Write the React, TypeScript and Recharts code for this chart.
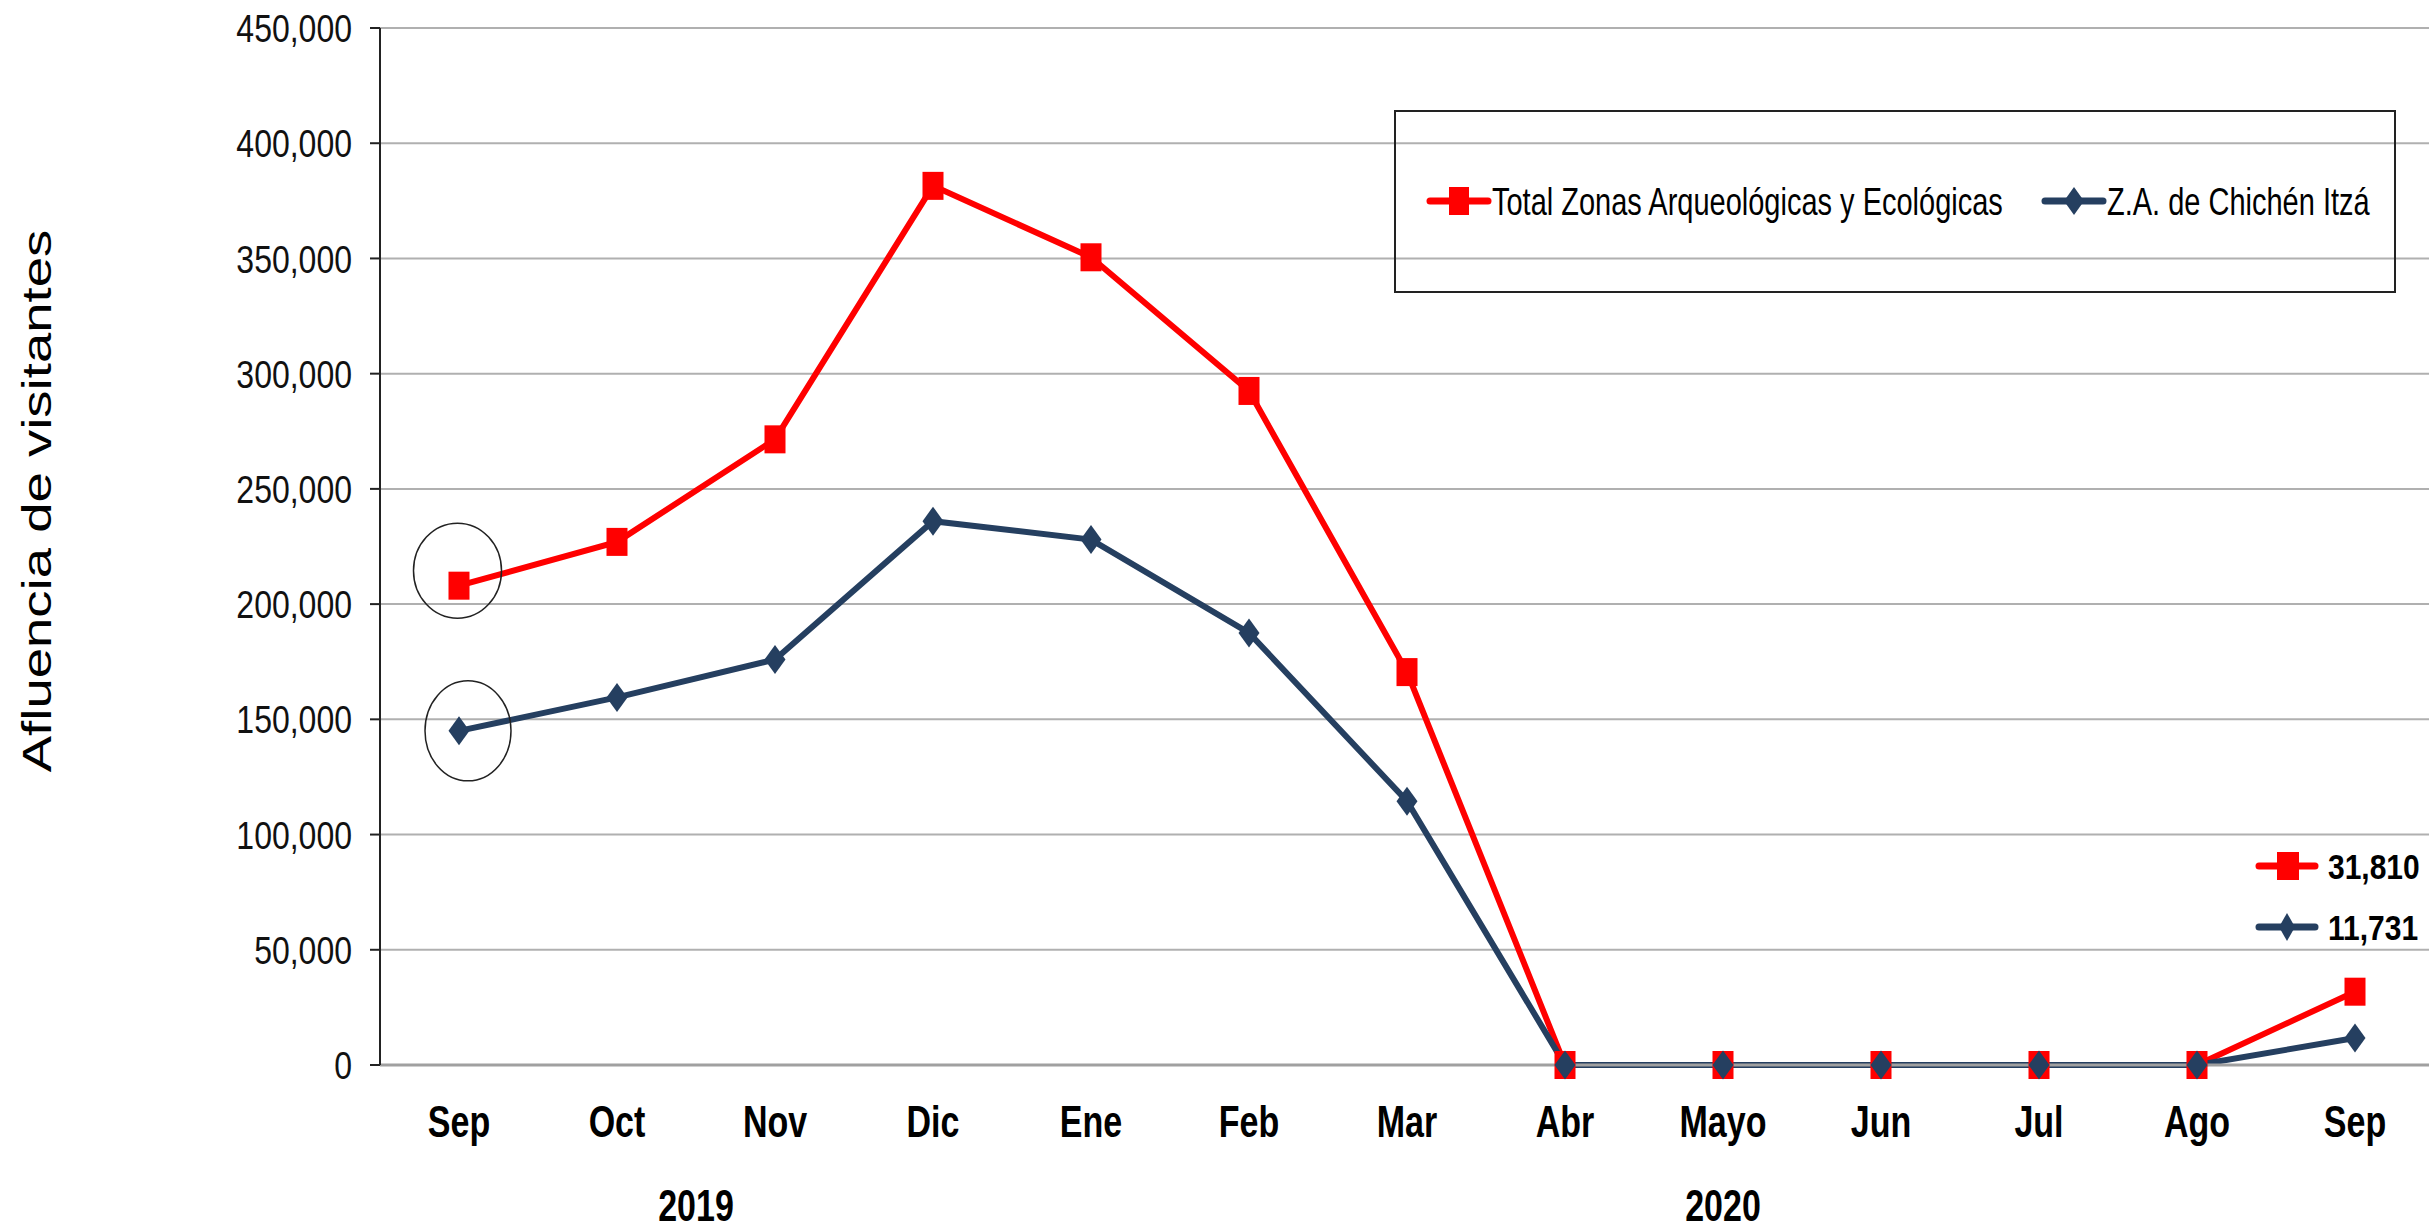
import React from "react";
import {
  LineChart,
  Line,
  XAxis,
  YAxis,
  CartesianGrid,
  Legend,
  ReferenceDot,
} from "recharts";

// Meses (sep 2019 - sep 2020)
const months = ["Sep", "Oct", "Nov", "Dic", "Ene", "Feb", "Mar", "Abr", "Mayo", "Jun", "Jul", "Ago", "Sep"];
const years = ["2019", "2019", "2019", "2019", "2020", "2020", "2020", "2020", "2020", "2020", "2020", "2020", "2020"];
const totalZonas = [208000, 227000, 271500, 381500, 350500, 292500, 170500, 0, 0, 0, 0, 0, 31810];
const chichenItza = [145000, 159500, 176000, 236000, 228000, 187500, 114500, 0, 0, 0, 0, 0, 11731];
const yTicks = [0, 50000, 100000, 150000, 200000, 250000, 300000, 350000, 400000, 450000];

const SERIES_TOTAL = "Total Zonas Arqueológicas y Ecológicas";
const SERIES_CHICHEN = "Z.A. de Chichén Itzá";
const RED = "#ff0000";
const NAVY = "#253f60";
const FONT = "'Liberation Sans', Arial, sans-serif";

const CHART_W = 2434;
const CHART_H = 1231;
const LEFT = 380;
const BAND = (CHART_W - LEFT) / months.length;

const keys = months.map((m, i) => `${m}-${years[i]}`);
const data = keys.map((k, i) => ({
  key: k,
  total: totalZonas[i],
  chichen: chichenItza[i],
}));

// year label sits at the middle of its group of months
const yearGroups = Array.from(new Set(years)).map((y) => {
  const idx = years.map((v, i) => (v === y ? i : -1)).filter((i) => i >= 0);
  return { year: y, mid: (idx[0] + idx[idx.length - 1]) / 2 };
});

const fmt = (v: number) => v.toLocaleString("en-US");

const SquareDot = (props: any) => {
  const { cx, cy, index } = props;
  if (cx == null || cy == null) return null;
  return <rect key={`sq-${index}`} x={cx - 10.5} y={cy - 14} width={21} height={28} fill={RED} />;
};

const DiamondDot = (props: any) => {
  const { cx, cy, index } = props;
  if (cx == null || cy == null) return null;
  return (
    <polygon
      key={`dm-${index}`}
      points={`${cx},${cy - 14.5} ${cx + 10.5},${cy} ${cx},${cy + 14.5} ${cx - 10.5},${cy}`}
      fill={NAVY}
    />
  );
};

const MonthTick = (props: any) => {
  const { x, y, payload } = props;
  const i = keys.indexOf(payload.value);
  const groups = yearGroups.filter((g) => Math.floor(g.mid) === i);
  return (
    <g>
      <g transform={`translate(${x},${y + 56})`}>
        <text textAnchor="middle" dy="0.36em" transform="scale(1,1.3)" fontFamily={FONT} fontWeight="bold" fontSize={34} fill="#000">
          {months[i]}
        </text>
      </g>
      {groups.map((g) => (
        <g key={g.year} transform={`translate(${x + (g.mid - i) * BAND},${y + 140})`}>
          <text textAnchor="middle" dy="0.36em" transform="scale(1,1.3)" fontFamily={FONT} fontWeight="bold" fontSize={34} fill="#000">
            {g.year}
          </text>
        </g>
      ))}
    </g>
  );
};

const YTick = (props: any) => {
  const { x, y, payload } = props;
  return (
    <g transform={`translate(${x},${y})`}>
      <text textAnchor="end" dy="0.36em" transform="scale(1,1.22)" fontFamily={FONT} fontSize={32} fill="#111">
        {fmt(payload.value)}
      </text>
    </g>
  );
};

const YTitle = () => (
  <text
    transform="translate(36,501) rotate(-90) scale(1.33,1)"
    textAnchor="middle"
    dy="0.36em"
    fontFamily={FONT}
    fontSize={41}
    fill="#000"
  >
    Afluencia de visitantes
  </text>
);

const LegendBox = () => (
  <svg width={1002} height={183} style={{ display: "block" }}>
    <rect x={1} y={1} width={1000} height={181} fill="none" stroke="#222" strokeWidth={2} />
    <line x1={36} y1={91} x2={94} y2={91} stroke={RED} strokeWidth={7} strokeLinecap="round" />
    <rect x={55} y={77} width={20} height={28} fill={RED} />
    <g transform="translate(98,91)">
      <text dy="0.36em" transform="scale(1,1.33)" fontFamily={FONT} fontSize={29} fill="#000">
        {SERIES_TOTAL}
      </text>
    </g>
    <line x1={651} y1={91} x2={709} y2={91} stroke={NAVY} strokeWidth={7} strokeLinecap="round" />
    <polygon points="680,77 690,91 680,105 670,91" fill={NAVY} />
    <g transform="translate(713,91)">
      <text dy="0.36em" transform="scale(1,1.33)" fontFamily={FONT} fontSize={29} fill="#000">
        {SERIES_CHICHEN}
      </text>
    </g>
  </svg>
);

const LastValues = () => {
  const last = months.length - 1;
  const rows = [
    { value: totalZonas[last], color: RED, square: true, top: 866 },
    { value: chichenItza[last], color: NAVY, square: false, top: 927 },
  ];
  return (
    <svg width={200} height={120} style={{ position: "absolute", left: 2240, top: 836 }}>
      {rows.map((r) => {
        const cy = r.top - 836;
        return (
          <g key={r.top}>
            <line x1={19} y1={cy} x2={75} y2={cy} stroke={r.color} strokeWidth={7} strokeLinecap="round" />
            {r.square ? (
              <rect x={37} y={cy - 14} width={22} height={28} fill={r.color} />
            ) : (
              <polygon points={`47,${cy - 14} 55,${cy} 47,${cy + 14} 39,${cy}`} fill={r.color} />
            )}
            <g transform={`translate(88,${cy})`}>
              <text dy="0.36em" transform="scale(1,1.18)" fontFamily={FONT} fontWeight="bold" fontSize={30} fill="#000">
                {fmt(r.value)}
              </text>
            </g>
          </g>
        );
      })}
    </svg>
  );
};

export default function App() {
  return (
    <div style={{ position: "absolute", left: 0, top: 0, width: 2429, height: CHART_H, overflow: "hidden", background: "#fff" }}>
      <LineChart width={CHART_W} height={CHART_H} data={data} margin={{ top: 28, right: 0, bottom: 0, left: 0 }}>
        <CartesianGrid vertical={false} stroke="#b0b0b0" strokeWidth={2} />
        <XAxis
          dataKey="key"
          height={166}
          interval={0}
          padding={{ left: BAND / 2, right: BAND / 2 }}
          tickLine={false}
          tickSize={0}
          tickMargin={0}
          axisLine={{ stroke: "#a0a0a0", strokeWidth: 3 }}
          tick={<MonthTick />}
        />
        <YAxis
          width={LEFT}
          domain={[0, 450000]}
          ticks={yTicks}
          interval={0}
          tickSize={10}
          tickMargin={18}
          axisLine={{ stroke: "#222", strokeWidth: 2 }}
          tickLine={{ stroke: "#222", strokeWidth: 2 }}
          tick={<YTick />}
          label={{ content: () => <YTitle /> }}
        />
        <Legend
          layout="vertical"
          align="center"
          verticalAlign="middle"
          content={() => <LegendBox />}
          wrapperStyle={{ position: "absolute", left: 1394, top: 110, width: 1002, height: 183 }}
        />
        <Line
          type="linear"
          dataKey="total"
          name={SERIES_TOTAL}
          stroke={RED}
          strokeWidth={6}
          dot={<SquareDot />}
          activeDot={false}
          isAnimationActive={false}
        />
        <Line
          type="linear"
          dataKey="chichen"
          name={SERIES_CHICHEN}
          stroke={NAVY}
          strokeWidth={6}
          dot={<DiamondDot />}
          activeDot={false}
          isAnimationActive={false}
        />
        <ReferenceDot
          x={keys[0]}
          y={totalZonas[0]}
          r={45}
          shape={(p: any) => (
            <ellipse cx={p.cx - 1.5} cy={p.cy - 15} rx={44} ry={47.5} fill="none" stroke="#222" strokeWidth={1.5} />
          )}
        />
        <ReferenceDot
          x={keys[0]}
          y={chichenItza[0]}
          r={45}
          shape={(p: any) => (
            <ellipse cx={p.cx + 9} cy={p.cy} rx={43} ry={50} fill="none" stroke="#222" strokeWidth={1.5} />
          )}
        />
      </LineChart>
      <LastValues />
    </div>
  );
}
